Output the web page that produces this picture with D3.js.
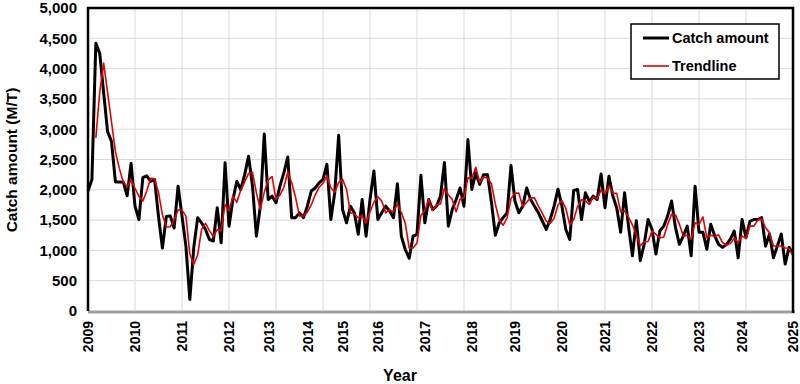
<!DOCTYPE html>
<html><head><meta charset="utf-8">
<script src="https://cdn.jsdelivr.net/npm/d3@7"></script>
<style>
html,body{margin:0;padding:0;background:#fff;}
svg text{font-family:"Liberation Sans",Arial,sans-serif;font-weight:bold;fill:#000;}
</style></head>
<body>
<svg id="chart" width="800" height="384"></svg>
<script>
// ---- data ----
const yearLabels = ["2009","2010","2011","2012","2013","2014","2015","2016","2017","2018","2019","2020","2021","2022","2023","2024","2025"];
const yearStartIndex = [0,12,24,36,46,56,65,74,86,98,109,121,132,144,156,167,180];
const catchAmount = [
 1980,2170,4420,4250,3600,2960,2800,2130,2130,2130,1900,2440,
 1730,1510,2200,2230,2140,2170,1560,1040,1560,1570,1370,2060,
 1565,1070,190,1045,1540,1455,1345,1180,1155,1705,1125,2445,
 1400,1840,2140,2005,2250,2555,2060,1235,1730,2920,1840,1895,
 1785,2060,2280,2540,1540,1540,1620,1540,1730,1980,2030,2115,
 2170,2420,1510,1950,2900,1675,1455,1730,1620,1265,1840,1235,
 1840,2310,1510,1620,1730,1650,1540,2100,1235,1015,870,1235,
 1265,2240,1455,1840,1675,1730,1895,2450,1400,1675,1840,2030,
 1730,2830,2005,2280,2090,2250,2250,1800,1250,1455,1540,1620,
 2400,1815,1620,1730,2030,1840,1730,1620,1485,1345,1510,1730,
 2010,1730,1345,1180,1990,2005,1510,1950,1810,1895,1840,2260,
 1705,2225,1900,1700,1300,1950,1400,910,1490,830,1100,1510,
 1350,940,1320,1400,1570,1815,1375,1100,1240,1400,910,2060,
 1300,1300,1020,1430,1240,1100,1050,1100,1185,1320,880,1510,
 1210,1480,1510,1510,1540,1070,1270,880,1070,1270,775,1050,940
];
const trendPeriod = 3;
const yTicks = [0,500,1000,1500,2000,2500,3000,3500,4000,4500,5000];
const gridEvery = 12;
const seriesNames = ["Catch amount","Trendline"];

// ---- derived trendline (moving average, like the spreadsheet trendline) ----
const trend = catchAmount.map((v,i)=> i < trendPeriod-1 ? null : d3.mean(catchAmount.slice(i-trendPeriod+1,i+1)));

const svg = d3.select("#chart");
const L=88, R=793, T=8, B=311;
const x = d3.scaleLinear().domain([0, catchAmount.length-1]).range([L,R]);
const y = d3.scaleLinear().domain([0,5000]).range([B,T]);

// gridlines
const g = svg.append("g");
g.selectAll("line.h").data(yTicks.filter(d=>d>0 && d<5000)).join("line")
  .attr("x1",L).attr("x2",R).attr("y1",d=>y(d)).attr("y2",d=>y(d))
  .attr("stroke","#d9d9d9").attr("stroke-width",1);
const vIdx = d3.range(gridEvery, catchAmount.length-1, gridEvery);
g.selectAll("line.v").data(vIdx).join("line")
  .attr("x1",d=>x(d)).attr("x2",d=>x(d)).attr("y1",T).attr("y2",B)
  .attr("stroke","#d9d9d9").attr("stroke-width",1);

// y axis labels
const yAxis = d3.axisLeft(y).tickValues(yTicks).tickFormat(d3.format(",")).tickSize(0).tickPadding(11);
const ya = svg.append("g").attr("transform",`translate(${L},0)`).call(yAxis);
ya.select(".domain").remove();
ya.selectAll("text").style("font-size","15px").attr("font-family",null).attr("fill","#000");

// x axis labels
const xAxis = d3.axisBottom(x).tickValues(yearStartIndex).tickFormat((d,i)=>yearLabels[i]).tickSize(0);
const xa = svg.append("g").attr("transform",`translate(0,${B})`).call(xAxis);
xa.select(".domain").remove();
xa.selectAll("text").style("font-size","14px").attr("font-family",null).attr("fill","#000")
  .attr("transform","rotate(-90)").attr("text-anchor","end").attr("dx","-10").attr("dy","0.35em").attr("y",0).attr("x",0);

// lines
const line = d3.line().defined(d=>d!=null).x((d,i)=>x(i)).y(d=>y(d));
svg.append("path").datum(catchAmount).attr("d",line).attr("fill","none")
  .attr("stroke","#000").attr("stroke-width",3).attr("stroke-linejoin","round");
svg.append("path").datum(trend).attr("d",line).attr("fill","none")
  .attr("stroke","#e60000").attr("stroke-width",1.6).attr("stroke-linejoin","round");

// frame
svg.append("line").attr("x1",L).attr("x2",R+2).attr("y1",B+1).attr("y2",B+1).attr("stroke","#a0a0a0").attr("stroke-width",3);
svg.append("path").attr("d",`M${L},${B}V${T}H${R}V${B+2}`).attr("fill","none").attr("stroke","#000").attr("stroke-width",2.5);

// titles
svg.append("text").attr("x",400).attr("y",381).attr("text-anchor","middle").style("font-size","16px").text("Year");
svg.append("text").attr("transform","translate(17,160) rotate(-90)").attr("text-anchor","middle").style("font-size","15.5px").text("Catch amount (M/T)");

// legend
const lg = svg.append("g");
lg.append("rect").attr("x",631).attr("y",24).attr("width",148).attr("height",55).attr("fill","#fff").attr("stroke","#000").attr("stroke-width",1.5);
const lItems = [{c:"#000",w:3},{c:"#e60000",w:1.6}];
lItems.forEach((it,i)=>{
  const yy = 38 + i*28;
  lg.append("line").attr("x1",643).attr("x2",669).attr("y1",yy).attr("y2",yy).attr("stroke",it.c).attr("stroke-width",it.w);
  lg.append("text").attr("x",672).attr("y",yy+5).style("font-size","14.5px").text(seriesNames[i]);
});
</script>
</body></html>
